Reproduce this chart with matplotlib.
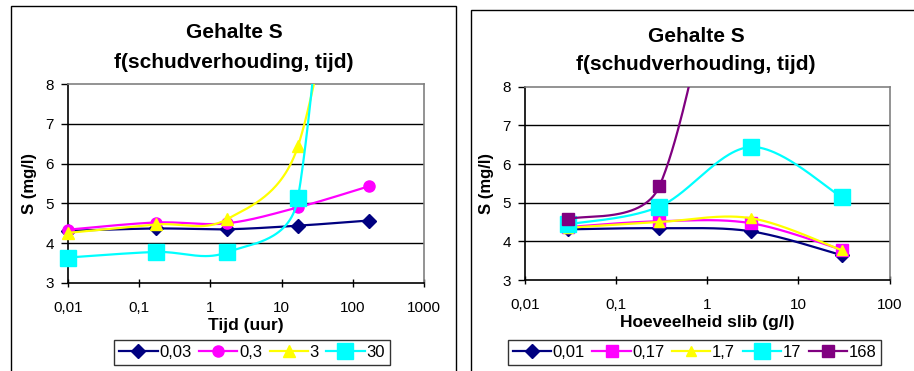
import matplotlib.pyplot as plt
import numpy as np
from matplotlib.lines import Line2D
from matplotlib.patches import Rectangle

plt.rcParams['font.family'] = ['Liberation Sans', 'DejaVu Sans']

# shaking time (h) and sludge amount (g/l)
time_h = [0.01, 0.17, 1.7, 17, 168]
time_labels = ['0,01', '0,17', '1,7', '17', '168']
slib = [0.03, 0.3, 3, 30]
slib_labels = ['0,03', '0,3', '3', '30']

# S (mg/l) per sludge amount, over time_h
s_003 = [4.31, 4.37, 4.35, 4.44, 4.57]
s_03 = [4.34, 4.52, 4.50, 4.90, 5.43]
s_3 = [4.26, 4.47, 4.60, 6.44, 15.5]
s_30 = [3.64, 3.78, 3.77, 5.14, 25.0]
s_by_slib = [s_003, s_03, s_3, s_30]

left_colors = ['#000080', '#FF00FF', '#FFFF00', '#00FFFF']
left_markers = ['D', 'o', '^', 's']
left_msize = [7, 8, 9, 12]
right_colors = ['#000080', '#FF00FF', '#FFFF00', '#00FFFF', '#800080']
right_markers = ['D', 's', '^', 's', 's']
right_msize = [7, 8, 7, 12, 9]

left_xticks = [0.01, 0.1, 1, 10, 100, 1000]
left_xticklabels = ['0,01', '0,1', '1', '10', '100', '1000']
right_xticks = [0.01, 0.1, 1, 10, 100]
right_xticklabels = ['0,01', '0,1', '1', '10', '100']
yticks = [3, 4, 5, 6, 7, 8]

W, H = 914, 371


def smooth(x, y, sx, sy, n=60):
    # Excel-like smoothed line: bezier with 1/6 tension, arm limited to half segment
    px = np.log10(np.asarray(x, float)) * sx
    py = np.asarray(y, float) * sy
    pts = np.column_stack([px, py])
    pts = np.vstack([pts[:1], pts, pts[-1:]])
    t = np.linspace(0, 1, n)[:, None]
    out = []
    for i in range(1, len(pts) - 2):
        p0, p1, p2, p3 = pts[i - 1:i + 3]
        d12 = np.hypot(*(p2 - p1))
        a1 = (p2 - p0) / 6
        a2 = (p3 - p1) / 6
        l1, l2 = np.hypot(*a1), np.hypot(*a2)
        if l1 > d12 / 2:
            a1 = a1 * (d12 / 2) / l1
        if l2 > d12 / 2:
            a2 = a2 * (d12 / 2) / l2
        c1, c2 = p1 + a1, p2 - a2
        seg = (1 - t) ** 3 * p1 + 3 * (1 - t) ** 2 * t * c1 + 3 * (1 - t) * t ** 2 * c2 + t ** 3 * p2
        out.append(seg)
    out = np.vstack(out)
    return 10 ** (out[:, 0] / sx), out[:, 1] / sy


def style_axes(ax, xlim, xticks, xticklabels):
    ax.set_xscale('log')
    ax.set_xlim(xlim)
    ax.set_ylim(3, 8)
    ax.set_xticks(xticks)
    ax.set_xticklabels(xticklabels)
    ax.minorticks_off()
    ax.set_yticks(yticks)
    ax.tick_params(axis='x', direction='inout', length=6, width=1, labelsize=11, pad=10)
    ax.tick_params(axis='y', direction='out', length=5, width=1, labelsize=11, pad=5)
    for y in yticks[1:-1]:
        ax.axhline(y, color='black', lw=1, zorder=1)
    ax.spines['top'].set_color('#808080')
    ax.spines['right'].set_color('#808080')
    ax.spines['left'].set_color('black')
    ax.spines['bottom'].set_color('black')
    for s in ax.spines.values():
        s.set_linewidth(1.2)
    ax.set_ylabel('S (mg/l)', fontsize=12, fontweight='bold', labelpad=6)


def draw_series(ax, x, y, color, marker, ms, z, sx, sy):
    cx, cy = smooth(x, y, sx, sy)
    ax.plot(cx, cy, color=color, lw=1.6, zorder=z)
    x = np.asarray(x)
    y = np.asarray(y)
    keep = y <= 8
    ax.plot(x[keep], y[keep], ls='none', marker=marker, ms=ms, color=color,
            mec=color, zorder=z + 0.5, clip_on=False)


def add_legend(handles, labels, cx, ncol):
    leg = fig.legend(handles, labels, loc='upper center', ncol=ncol,
                     bbox_to_anchor=(cx / W, 1 - 340 / H), borderaxespad=0,
                     fontsize=12, frameon=True, fancybox=False, edgecolor='black',
                     handlelength=2.3, handletextpad=0.1, columnspacing=0.45,
                     borderpad=0.3)
    leg.get_frame().set_linewidth(1)


fig = plt.figure(figsize=(W / 100, H / 100), dpi=100)
fig.patch.set_facecolor('white')

# chart borders
fig.add_artist(Rectangle((11 / W, -0.1), (456 - 11) / W, (H - 6) / H + 0.1,
                         transform=fig.transFigure, fill=False, ec='black', lw=1))
fig.add_artist(Rectangle((471 / W, -0.1), 0.6, (H - 10) / H + 0.1,
                         transform=fig.transFigure, fill=False, ec='black', lw=1))

# left chart: S vs time, one series per sludge amount
axl = fig.add_axes([68 / W, 1 - 283 / H, (424 - 68) / W, (283 - 84) / H])
style_axes(axl, (0.01, 1000), left_xticks, left_xticklabels)
axl.set_xlabel('Tijd (uur)', fontsize=12.5, fontweight='bold', labelpad=2)
handles = []
for i, vals in enumerate(s_by_slib):
    draw_series(axl, time_h, vals, left_colors[i], left_markers[i], left_msize[i], 3 + i,
                71.2, 39.8)
    handles.append(Line2D([], [], color=left_colors[i], lw=1.6, marker=left_markers[i],
                          ms=left_msize[i], mec=left_colors[i]))
fig.text(234 / W, 1 - 33 / H, 'Gehalte S', ha='center', va='center',
         fontsize=15, fontweight='bold')
fig.text(234 / W, 1 - 62 / H, 'f(schudverhouding, tijd)', ha='center', va='center',
         fontsize=15, fontweight='bold')
add_legend(handles, slib_labels, 252, 4)

# right chart: S vs sludge amount, one series per time
axr = fig.add_axes([524.7 / W, 1 - 280 / H, (889.7 - 524.7) / W, (280 - 86.7) / H])
style_axes(axr, (0.01, 100), right_xticks, right_xticklabels)
axr.set_xlabel('Hoeveelheid slib (g/l)', fontsize=12.5, fontweight='bold', labelpad=2)
handles = []
for j in range(len(time_h)):
    vals = [s[j] for s in s_by_slib]
    draw_series(axr, slib, vals, right_colors[j], right_markers[j], right_msize[j], 3 + j,
                73.0, 38.7)
    handles.append(Line2D([], [], color=right_colors[j], lw=1.6, marker=right_markers[j],
                          ms=right_msize[j], mec=right_colors[j]))
fig.text(696 / W, 1 - 36 / H, 'Gehalte S', ha='center', va='center',
         fontsize=15, fontweight='bold')
fig.text(696 / W, 1 - 64 / H, 'f(schudverhouding, tijd)', ha='center', va='center',
         fontsize=15, fontweight='bold')
add_legend(handles, time_labels, 694.5, 5)

fig.savefig('out.png', dpi=100, facecolor='white')
